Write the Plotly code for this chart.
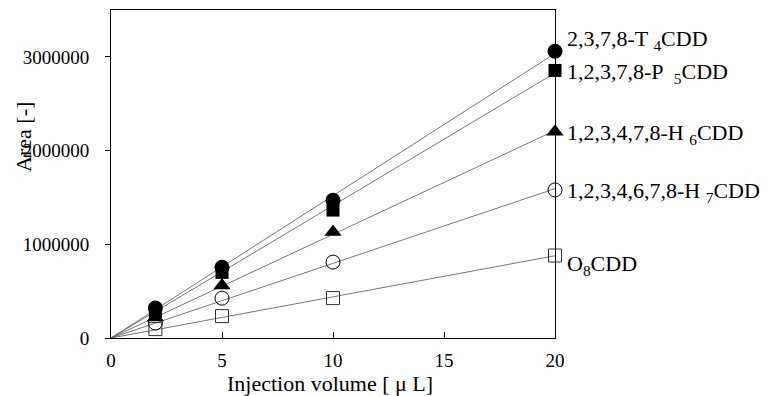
import plotly.graph_objects as go
import numpy as np

volumes = [2, 5, 10, 20]
series_names = ["T4", "P5", "H6", "H7", "O8"]
label_texts = [
    "2,3,7,8-T <sub>4</sub>CDD",
    "1,2,3,7,8-P  <sub>5</sub>CDD",
    "1,2,3,4,7,8-H <sub>6</sub>CDD",
    "1,2,3,4,6,7,8-H <sub>7</sub>CDD",
    "O<sub>8</sub>CDD",
]
area_T4 = [320000, 755000, 1470000, 3060000]
area_P5 = [280000, 700000, 1365000, 2855000]
area_H6 = [220000, 560000, 1130000, 2200000]
area_H7 = [160000, 425000, 810000, 1580000]
area_O8 = [95000, 234000, 426000, 880000]
all_areas = [area_T4, area_P5, area_H6, area_H7, area_O8]

x_ticks = [0, 5, 10, 15, 20]
y_ticks = [0, 1000000, 2000000, 3000000]

# label vertical placement (layout, not data)
label_y = [3180000, 2830000, 2180000, 1560000, 780000]

markers = [
    dict(symbol="circle", size=15, color="black", line=dict(width=0)),
    dict(symbol="square", size=13, color="black", line=dict(width=0)),
    dict(symbol="triangle-up", size=15, color="black", line=dict(width=0)),
    dict(symbol="circle-open", size=14, color="black", line=dict(width=1, color="black")),
    dict(symbol="square-open", size=13, color="#333333", line=dict(width=1, color="#333333")),
]

FAM = "Liberation Serif, Times New Roman, serif"
tick_font = dict(family=FAM, size=19, color="black")
title_font = dict(family=FAM, size=22, color="black")
label_font = dict(family=FAM, size=22, color="black")

fig = go.Figure()
xs = np.array(volumes, dtype=float)
for name, ys in zip(series_names, all_areas):
    ya = np.array(ys, dtype=float)
    slope = float((xs * ya).sum() / (xs * xs).sum())
    fig.add_trace(go.Scatter(x=[0, 20], y=[0, slope * 20], mode="lines",
                             line=dict(color="#555555", width=0.8),
                             showlegend=False, hoverinfo="skip", cliponaxis=False))
for name, ys, mk in zip(series_names, all_areas, markers):
    fig.add_trace(go.Scatter(x=volumes, y=ys, mode="markers", marker=mk,
                             name=name, showlegend=False, cliponaxis=False))

for txt, ly in zip(label_texts, label_y):
    fig.add_annotation(x=20, y=ly, xref="x", yref="y", text=txt, showarrow=False,
                       xanchor="left", yanchor="middle", xshift=10, font=label_font)

fig.add_annotation(x=-0.196, y=0.613, xref="paper", yref="paper", text="Area [-]",
                   textangle=-90, showarrow=False, font=title_font,
                   xanchor="center", yanchor="middle")
fig.add_annotation(x=0.493, y=-0.14, xref="paper", yref="paper",
                   text="Injection volume [ μ L]", showarrow=False, font=title_font,
                   xanchor="center", yanchor="middle")

fig.update_layout(
    width=769, height=396,
    margin=dict(l=111, r=214, t=10, b=58),
    plot_bgcolor="white", paper_bgcolor="white",
    font=tick_font,
    xaxis=dict(range=[0, 20], tickvals=x_ticks, ticks="inside", ticklen=6,
               tickcolor="black", showline=True, linecolor="black", linewidth=1,
               mirror=True, showgrid=False, zeroline=False, tickfont=tick_font,
               ticklabelstandoff=5),
    yaxis=dict(range=[0, 3500000], tickvals=y_ticks, ticks="outside", ticklen=5,
               tickcolor="black", showline=True, linecolor="black", linewidth=1,
               mirror=True, showgrid=False, zeroline=False, tickfont=tick_font,
               tickformat="d", ticklabelstandoff=12),
)

fig.write_html("out.html")
